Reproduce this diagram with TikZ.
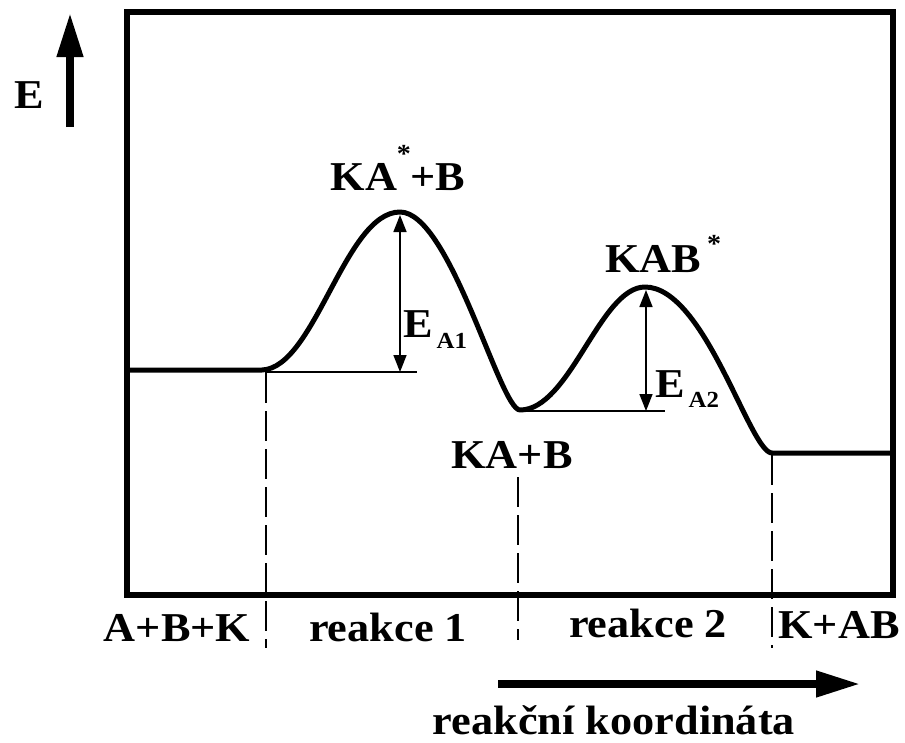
\documentclass[tikz,border=0pt]{standalone}
\usepackage{fontspec}
\setmainfont{Liberation Serif}[FakeStretch=1.08]
\usetikzlibrary{arrows.meta}

\begin{document}
\begin{tikzpicture}[x=1pt, y=-1pt,
  lbl/.style={inner sep=0pt, anchor=base, font=\fontsize{41}{41}\selectfont\bfseries},
  thinline/.style={line width=1.6pt},
  guide/.style={line width=1.6pt, dash pattern=on 30pt off 8pt},
  profile/.style={line width=5pt, line join=round},
  bigarrow/.style={line width=7.5pt, -{Triangle[length=44pt,width=25pt]}},
  barrier/.style={line width=1.6pt, {Triangle[length=17pt,width=13pt]}-{Triangle[length=17pt,width=13pt]}}]

\useasboundingbox (0,0) rectangle (905,742);

% Plot Frame
\draw[line width=6pt] (127,12) rectangle (893,595);

% Energy axis
\coordinate (etail) at (70,127);
\coordinate (ehead) at (70,13);
\draw[bigarrow] (etail) -- (ehead);
\node[lbl] (elabel) at (29,108) {E};

% Energy profile
\coordinate (left) at (127,370);
\coordinate (rise) at (262,370);
\coordinate (peak1) at (400,212);
\coordinate (valley) at (520,410);
\coordinate (peak2) at (645,287);
\coordinate (fall) at (772,453);
\coordinate (right) at (891,453);
\draw[profile] (left) -- (rise)
  .. controls (315,368) and (345,212) .. (peak1)
  .. controls (450,212) and (500,410) .. (valley)
  .. controls (570,410) and (600,287) .. (peak2)
  .. controls (705,287) and (750,453) .. (fall) -- (right);

% Activation energies
\coordinate (ref1a) at (265,372);
\coordinate (ref1b) at (417,372);
\coordinate (top1) at (400,215);
\coordinate (base1) at (400,372);
\draw[thinline] (ref1a) -- (ref1b);
\draw[barrier] (top1) -- (base1);
\node[lbl, anchor=base west] (ea1) at (403,337) {E\kern4pt\raisebox{-11pt}{\fontsize{23}{23}\selectfont A1}};

\coordinate (ref2a) at (522,411);
\coordinate (ref2b) at (665,411);
\coordinate (top2) at (646,290);
\coordinate (base2) at (646,411);
\draw[thinline] (ref2a) -- (ref2b);
\draw[barrier] (top2) -- (base2);
\node[lbl, anchor=base west] (ea2) at (655,397) {E\kern4pt\raisebox{-10pt}{\fontsize{23}{23}\selectfont A2}};

% States
\node[lbl] (ts1) at (398,190) {KA\makebox[13pt]{\raisebox{28pt}{\fontsize{26}{26}\selectfont *}}+B};
\node[lbl, anchor=base west] (ts2) at (605,272) {KAB\kern6pt\raisebox{20pt}{\fontsize{26}{26}\selectfont *}};
\node[lbl] (inter) at (512,468) {KA+B};

% Stage borders
\coordinate (d1top) at (266,373);
\coordinate (d1bot) at (266,648);
\coordinate (d2top) at (518,477);
\coordinate (d2bot) at (518,640);
\coordinate (d3top) at (772,455);
\coordinate (d3bot) at (772,648);
\draw[guide] (d1top) -- (d1bot);
\draw[guide] (d2top) -- (d2bot);
\draw[guide] (d3top) -- (d3bot);

\node[lbl] (reactants) at (177,641) {A+B+K};
\node[lbl] (step1) at (388,641) {reakce 1};
\node[lbl] (step2) at (648,637) {reakce 2};
\node[lbl] (products) at (839,638) {K+AB};

% Reaction coordinate
\coordinate (xtail) at (498,684);
\coordinate (xhead) at (860,684);
\draw[bigarrow] (xtail) -- (xhead);
\node[lbl] (xlabel) at (614,734) {reakční koordináta};

\end{tikzpicture}
\end{document}
